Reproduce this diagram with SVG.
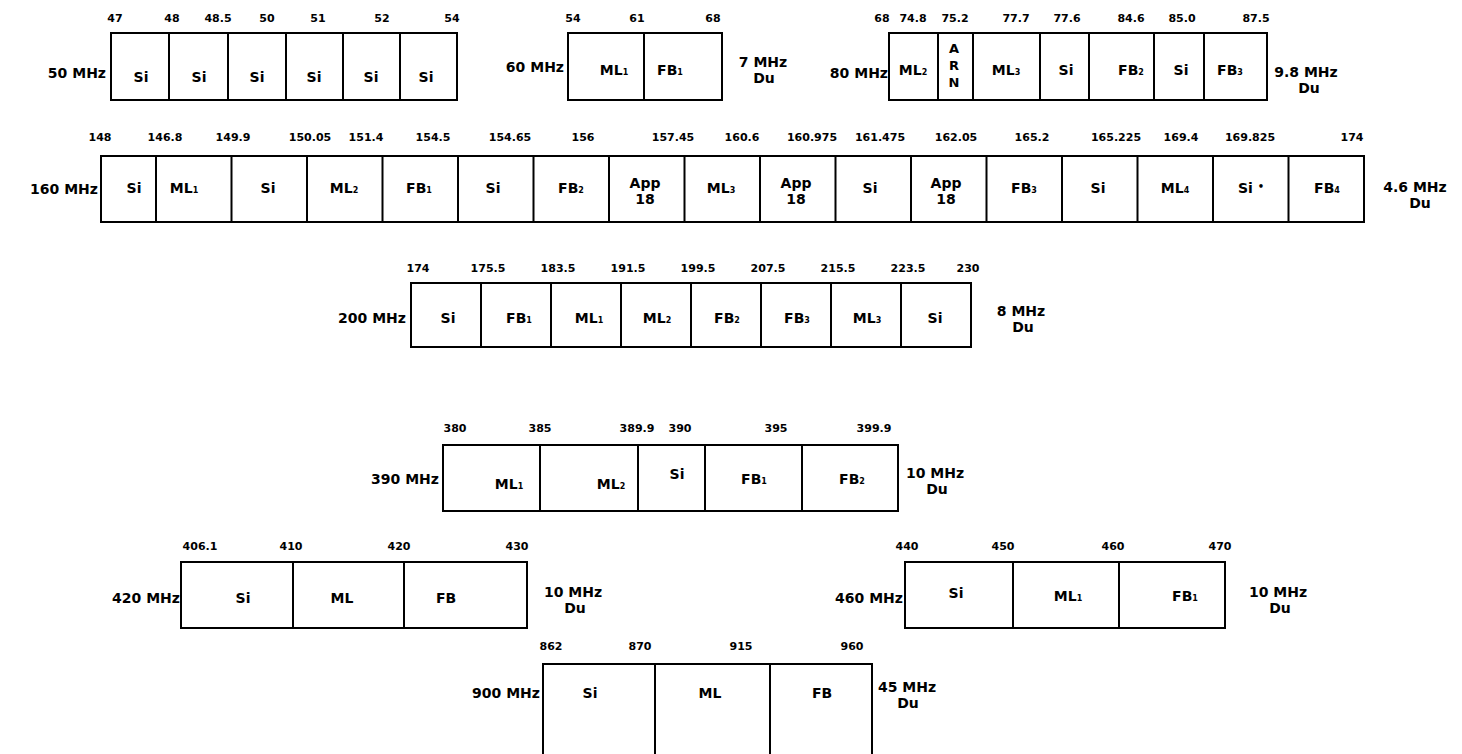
<svg xmlns="http://www.w3.org/2000/svg" width="1462" height="754" viewBox="0 0 1462 754">
<style>
.bg{fill:#fff}
.box{fill:none;stroke:#000;stroke-width:2}
.dv{stroke:#000;stroke-width:2}
text{font-family:"DejaVu Sans","Liberation Sans",Arial,sans-serif;font-weight:bold;fill:#000}
.num{font-size:11px;text-anchor:middle}
.band{font-size:14px;text-anchor:end}
.du{font-size:14px;text-anchor:middle}
.c{font-size:14px;text-anchor:middle}
.s{font-size:8px}
.arn{font-size:13px;text-anchor:middle}
</style>
<rect class="bg" x="0" y="0" width="1462" height="754"/>
<g id="connectors"/>

<g id="band-50">
<text class="num" x="115" y="22">47</text><text class="num" x="172" y="22">48</text><text class="num" x="218" y="22">48.5</text><text class="num" x="267" y="22">50</text><text class="num" x="318" y="22">51</text><text class="num" x="382" y="22">52</text><text class="num" x="452" y="22">54</text>
<text class="band" x="106" y="78">50 MHz</text>
<rect class="box" x="111" y="33" width="346" height="67"/>
<path class="dv" d="M169 33V100M228 33V100M286 33V100M343 33V100M400 33V100"/>
<text class="c" x="141" y="82">Si</text><text class="c" x="199" y="82">Si</text><text class="c" x="257" y="82">Si</text><text class="c" x="314" y="82">Si</text><text class="c" x="371" y="82">Si</text><text class="c" x="426" y="82">Si</text>
</g>

<g id="band-60">
<text class="num" x="573" y="22">54</text><text class="num" x="637" y="22">61</text><text class="num" x="713" y="22">68</text>
<text class="band" x="564" y="72">60 MHz</text>
<rect class="box" x="568" y="33" width="154" height="67"/>
<path class="dv" d="M644 33V100"/>
<text class="c" x="614" y="75">ML<tspan class="s">1</tspan></text>
<text class="c" x="670" y="75">FB<tspan class="s">1</tspan></text>
<text class="du" x="763" y="67">7 MHz</text><text class="du" x="764" y="83">Du</text>
</g>

<g id="band-80">
<text class="num" x="882" y="22">68</text><text class="num" x="913" y="22">74.8</text><text class="num" x="955" y="22">75.2</text><text class="num" x="1016" y="22">77.7</text><text class="num" x="1067" y="22">77.6</text><text class="num" x="1131" y="22">84.6</text><text class="num" x="1182" y="22">85.0</text><text class="num" x="1256" y="22">87.5</text>
<text class="band" x="888" y="78">80 MHz</text>
<rect class="box" x="889" y="33" width="378" height="67"/>
<path class="dv" d="M938 33V100M973 33V100M1040 33V100M1089 33V100M1154 33V100M1204 33V100"/>
<text class="c" x="913" y="75">ML<tspan class="s">2</tspan></text>
<text class="arn" x="954" y="53">A</text><text class="arn" x="954" y="70">R</text><text class="arn" x="954" y="87">N</text>
<text class="c" x="1006" y="75">ML<tspan class="s">3</tspan></text>
<text class="c" x="1066" y="75">Si</text>
<text class="c" x="1131" y="75">FB<tspan class="s">2</tspan></text>
<text class="c" x="1181" y="75">Si</text>
<text class="c" x="1230" y="75">FB<tspan class="s">3</tspan></text>
<text class="du" x="1306" y="77">9.8 MHz</text><text class="du" x="1309" y="93">Du</text>
</g>

<g id="band-160">
<text class="num" x="100" y="141">148</text><text class="num" x="165" y="141">146.8</text><text class="num" x="233" y="141">149.9</text><text class="num" x="310" y="141">150.05</text><text class="num" x="366" y="141">151.4</text><text class="num" x="433" y="141">154.5</text><text class="num" x="510" y="141">154.65</text><text class="num" x="583" y="141">156</text><text class="num" x="673" y="141">157.45</text><text class="num" x="742" y="141">160.6</text><text class="num" x="812" y="141">160.975</text><text class="num" x="880" y="141">161.475</text><text class="num" x="956" y="141">162.05</text><text class="num" x="1032" y="141">165.2</text><text class="num" x="1116" y="141">165.225</text><text class="num" x="1181" y="141">169.4</text><text class="num" x="1250" y="141">169.825</text><text class="num" x="1352" y="141">174</text>
<text class="band" x="98" y="194">160 MHz</text>
<rect class="box" x="101" y="156" width="1263" height="66"/>
<path class="dv" d="M156 156V222M231.5 156V222M307 156V222M382.5 156V222M458 156V222M533.5 156V222M609 156V222M684.5 156V222M760 156V222M835.5 156V222M911 156V222M986.5 156V222M1062 156V222M1137.5 156V222M1213 156V222M1288.5 156V222"/>
<text class="c" x="134" y="193">Si</text>
<text class="c" x="184" y="193">ML<tspan class="s">1</tspan></text>
<text class="c" x="268" y="193">Si</text>
<text class="c" x="344" y="193">ML<tspan class="s">2</tspan></text>
<text class="c" x="419" y="193">FB<tspan class="s">1</tspan></text>
<text class="c" x="493" y="193">Si</text>
<text class="c" x="571" y="193">FB<tspan class="s">2</tspan></text>
<text class="c" x="645" y="188">App</text><text class="c" x="645" y="204">18</text>
<text class="c" x="721" y="193">ML<tspan class="s">3</tspan></text>
<text class="c" x="796" y="188">App</text><text class="c" x="796" y="204">18</text>
<text class="c" x="870" y="193">Si</text>
<text class="c" x="946" y="188">App</text><text class="c" x="946" y="204">18</text>
<text class="c" x="1024" y="193">FB<tspan class="s">3</tspan></text>
<text class="c" x="1098" y="193">Si</text>
<text class="c" x="1175" y="193">ML<tspan class="s">4</tspan></text>
<text class="c" x="1251" y="193">Si <tspan font-size="10" dy="-3">•</tspan></text>
<text class="c" x="1327" y="193">FB<tspan class="s">4</tspan></text>
<text class="du" x="1415" y="192">4.6 MHz</text><text class="du" x="1420" y="208">Du</text>
</g>

<g id="band-200">
<text class="num" x="418" y="272">174</text><text class="num" x="488" y="272">175.5</text><text class="num" x="558" y="272">183.5</text><text class="num" x="628" y="272">191.5</text><text class="num" x="698" y="272">199.5</text><text class="num" x="768" y="272">207.5</text><text class="num" x="838" y="272">215.5</text><text class="num" x="908" y="272">223.5</text><text class="num" x="968" y="272">230</text>
<text class="band" x="406" y="323">200 MHz</text>
<rect class="box" x="411" y="283" width="560" height="64"/>
<path class="dv" d="M481 283V347M551 283V347M621 283V347M691 283V347M761 283V347M831 283V347M901 283V347"/>
<text class="c" x="448" y="323">Si</text>
<text class="c" x="519" y="323">FB<tspan class="s">1</tspan></text>
<text class="c" x="589" y="323">ML<tspan class="s">1</tspan></text>
<text class="c" x="657" y="323">ML<tspan class="s">2</tspan></text>
<text class="c" x="727" y="323">FB<tspan class="s">2</tspan></text>
<text class="c" x="797" y="323">FB<tspan class="s">3</tspan></text>
<text class="c" x="867" y="323">ML<tspan class="s">3</tspan></text>
<text class="c" x="935" y="323">Si</text>
<text class="du" x="1021" y="316">8 MHz</text><text class="du" x="1023" y="332">Du</text>
</g>

<g id="band-390">
<text class="num" x="455" y="432">380</text><text class="num" x="540" y="432">385</text><text class="num" x="637" y="432">389.9</text><text class="num" x="680" y="432">390</text><text class="num" x="776" y="432">395</text><text class="num" x="874" y="432">399.9</text>
<text class="band" x="439" y="484">390 MHz</text>
<rect class="box" x="443" y="445" width="455" height="66"/>
<path class="dv" d="M540 445V511M638 445V511M705 445V511M802 445V511"/>
<text class="c" x="509" y="489">ML<tspan class="s">1</tspan></text>
<text class="c" x="611" y="489">ML<tspan class="s">2</tspan></text>
<text class="c" x="677" y="479">Si</text>
<text class="c" x="754" y="484">FB<tspan class="s">1</tspan></text>
<text class="c" x="852" y="484">FB<tspan class="s">2</tspan></text>
<text class="du" x="935" y="478">10 MHz</text><text class="du" x="937" y="494">Du</text>
</g>

<g id="band-420">
<text class="num" x="200" y="550">406.1</text><text class="num" x="291" y="550">410</text><text class="num" x="399" y="550">420</text><text class="num" x="517" y="550">430</text>
<text class="band" x="180" y="603">420 MHz</text>
<rect class="box" x="181" y="562" width="346" height="66"/>
<path class="dv" d="M293 562V628M404 562V628"/>
<text class="c" x="243" y="603">Si</text>
<text class="c" x="342" y="603">ML</text>
<text class="c" x="446" y="603">FB</text>
<text class="du" x="573" y="597">10 MHz</text><text class="du" x="575" y="613">Du</text>
</g>

<g id="band-460">
<text class="num" x="907" y="550">440</text><text class="num" x="1003" y="550">450</text><text class="num" x="1113" y="550">460</text><text class="num" x="1220" y="550">470</text>
<text class="band" x="903" y="603">460 MHz</text>
<rect class="box" x="905" y="562" width="320" height="66"/>
<path class="dv" d="M1013 562V628M1119 562V628"/>
<text class="c" x="956" y="598">Si</text>
<text class="c" x="1068" y="601">ML<tspan class="s">1</tspan></text>
<text class="c" x="1185" y="601">FB<tspan class="s">1</tspan></text>
<text class="du" x="1278" y="597">10 MHz</text><text class="du" x="1280" y="613">Du</text>
</g>

<g id="band-900">
<text class="num" x="551" y="650">862</text><text class="num" x="640" y="650">870</text><text class="num" x="741" y="650">915</text><text class="num" x="852" y="650">960</text>
<text class="band" x="540" y="698">900 MHz</text>
<path class="box" d="M543 760V664H872V760"/>
<path class="dv" d="M655 664V760M770 664V760"/>
<text class="c" x="590" y="698">Si</text>
<text class="c" x="710" y="698">ML</text>
<text class="c" x="822" y="698">FB</text>
<text class="du" x="907" y="692">45 MHz</text><text class="du" x="908" y="708">Du</text>
</g>
</svg>
